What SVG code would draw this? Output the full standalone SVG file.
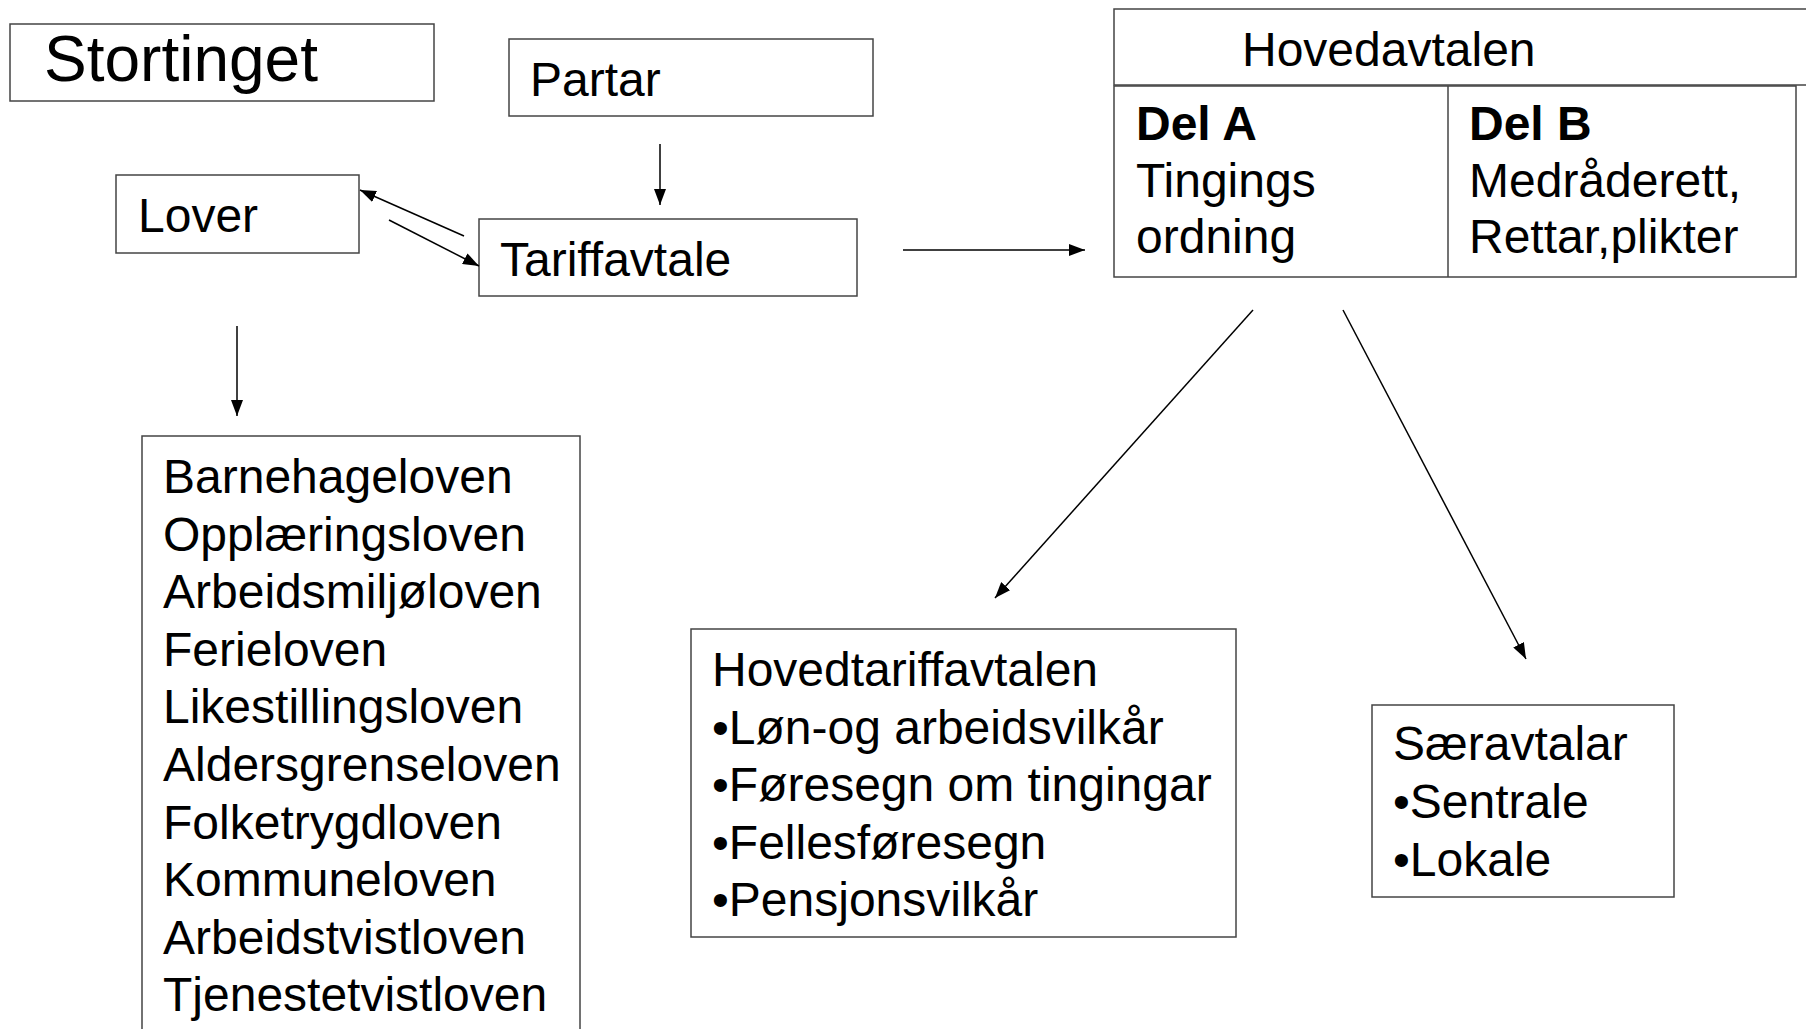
<svg xmlns="http://www.w3.org/2000/svg" width="1806" height="1029" viewBox="0 0 1806 1029">
<style>
.box{fill:#fff;stroke:#444;stroke-width:1.5}
.t{font-family:"Liberation Sans",Arial,sans-serif;font-size:48px;fill:#000}
.big{font-size:64px}
.b{font-weight:bold}
.c{stroke:#000;stroke-width:1.5;fill:none;marker-end:url(#ah)}
</style>
<defs>
<marker id="ah" markerUnits="userSpaceOnUse" markerWidth="16" markerHeight="12" refX="16" refY="6" orient="auto">
<path d="M0,0 L16,6 L0,12 z" fill="#000"/>
</marker>
</defs>
<rect width="1806" height="1029" fill="#fff"/>
<g id="stortinget">
<rect class="box" x="10" y="24" width="424" height="77"/>
<text class="t big" x="44" y="81">Stortinget</text>
</g>
<g id="partar">
<rect class="box" x="509" y="39" width="364" height="77"/>
<text class="t" x="530" y="96">Partar</text>
</g>
<g id="lover">
<rect class="box" x="116" y="175" width="243" height="78"/>
<text class="t" x="138" y="232">Lover</text>
</g>
<g id="tariffavtale">
<rect class="box" x="479" y="219" width="378" height="77"/>
<text class="t" x="500" y="276">Tariffavtale</text>
</g>
<g id="hovedavtalen">
<rect class="box" x="1114" y="9" width="720" height="76"/>
<text class="t" x="1242" y="66">Hovedavtalen</text>
<rect class="box" x="1114" y="86" width="682" height="191"/>
<line x1="1448" y1="86" x2="1448" y2="277" stroke="#444" stroke-width="1.5"/>
<text class="t b" x="1136" y="140">Del A</text>
<text class="t" x="1136" y="197">Tingings</text>
<text class="t" x="1136" y="253">ordning</text>
<text class="t b" x="1469" y="140">Del B</text>
<text class="t" x="1469" y="197">Medråderett,</text>
<text class="t" x="1469" y="253">Rettar,plikter</text>
</g>
<g id="lovliste">
<rect class="box" x="142" y="436" width="438" height="610"/>
<text class="t" x="163" y="493">Barnehageloven</text>
<text class="t" x="163" y="550.6">Opplæringsloven</text>
<text class="t" x="163" y="608.2">Arbeidsmiljøloven</text>
<text class="t" x="163" y="665.8">Ferieloven</text>
<text class="t" x="163" y="723.4">Likestillingsloven</text>
<text class="t" x="163" y="781">Aldersgrenseloven</text>
<text class="t" x="163" y="838.6">Folketrygdloven</text>
<text class="t" x="163" y="896.2">Kommuneloven</text>
<text class="t" x="163" y="953.8">Arbeidstvistloven</text>
<text class="t" x="163" y="1011.4">Tjenestetvistloven</text>
</g>
<g id="hovedtariffavtalen">
<rect class="box" x="691" y="629" width="545" height="308"/>
<text class="t" x="712" y="686">Hovedtariffavtalen</text>
<text class="t" x="712" y="743.6">•Løn-og arbeidsvilkår</text>
<text class="t" x="712" y="801.2">•Føresegn om tingingar</text>
<text class="t" x="712" y="858.8">•Fellesføresegn</text>
<text class="t" x="712" y="916.4">•Pensjonsvilkår</text>
</g>
<g id="saeravtalar">
<rect class="box" x="1372" y="705" width="302" height="192"/>
<text class="t" x="1393" y="760">Særavtalar</text>
<text class="t" x="1393" y="818">•Sentrale</text>
<text class="t" x="1393" y="876">•Lokale</text>
</g>
<g id="connectors">
<line class="c" x1="660" y1="144" x2="660" y2="205"/>
<line class="c" x1="464" y1="236" x2="360" y2="190"/>
<line class="c" x1="389" y1="220" x2="479" y2="266"/>
<line class="c" x1="237" y1="326" x2="237" y2="416"/>
<line class="c" x1="903" y1="250" x2="1085" y2="250"/>
<line class="c" x1="1253" y1="310" x2="995" y2="598"/>
<line class="c" x1="1343" y1="310" x2="1526" y2="659"/>
</g>
</svg>
